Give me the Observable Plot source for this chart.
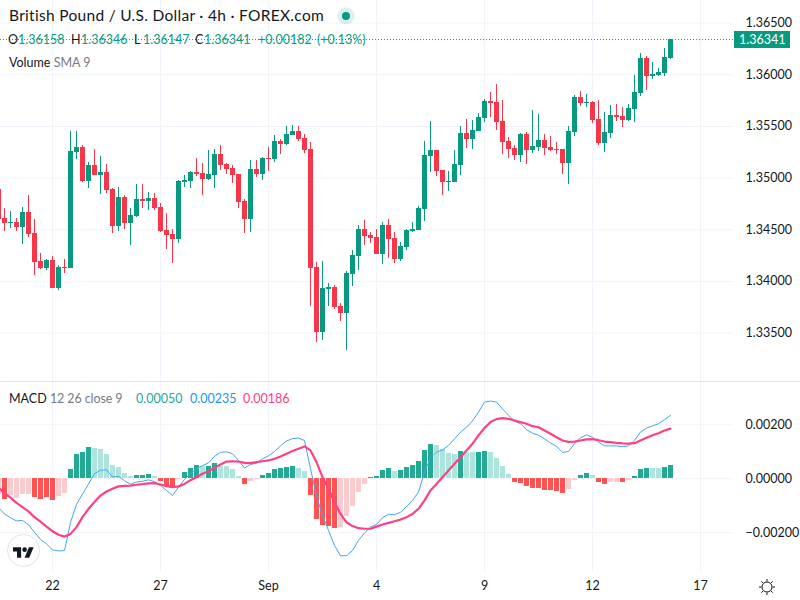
<!DOCTYPE html>
<html>
<head>
<meta charset="utf-8">
<script src="https://cdn.jsdelivr.net/npm/d3@7"></script>
<script src="https://cdn.jsdelivr.net/npm/@observablehq/plot@0.6"></script>
<style>
html,body{margin:0;padding:0;background:#fff;}
body{width:800px;height:600px;overflow:hidden;position:relative;font-family:"Lato","Noto Sans",sans-serif;color:#131722;}
#chart svg{display:block;}
#sep{height:1px;background:#e0e3eb;}
.t{position:absolute;white-space:pre;line-height:1;}
.g{color:#089981;}
.mut{color:#787b86;}
</style>
</head>
<body>
<div id="chart"></div>
<div class="t" style="left:9px;top:8px;font-size:15.5px;letter-spacing:.3px;">British Pound / U.S. Dollar · 4h · FOREX.com</div>
<svg style="position:absolute;left:337px;top:7px" width="18" height="18"><circle cx="9" cy="9" r="8.5" fill="#089981" opacity=".14"/><circle cx="9" cy="9" r="4" fill="#089981"/></svg>
<div class="t" style="left:8px;top:34px;font-size:12.5px;">O</div>
<div class="t g" style="left:18px;top:34px;font-size:12.5px;">1.36158</div>
<div class="t" style="left:71px;top:34px;font-size:12.5px;">H</div>
<div class="t g" style="left:81px;top:34px;font-size:12.5px;">1.36346</div>
<div class="t" style="left:134px;top:34px;font-size:12.5px;">L</div>
<div class="t g" style="left:143px;top:34px;font-size:12.5px;">1.36147</div>
<div class="t" style="left:195px;top:34px;font-size:12.5px;">C</div>
<div class="t g" style="left:204px;top:34px;font-size:12.5px;">1.36341</div>
<div class="t g" style="left:258px;top:34px;font-size:12.5px;">+0.00182</div>
<div class="t g" style="left:317px;top:34px;font-size:12.5px;">(+0.13%)</div>
<div class="t" style="left:9px;top:57px;font-size:12.5px;">Volume <span class="mut">SMA 9</span></div>
<div class="t" style="left:9px;top:393px;font-size:12.5px;">MACD <span class="mut" style="letter-spacing:-.1px">12 26 close 9</span></div>
<div class="t" style="left:136px;top:393px;font-size:12.5px;color:#22ab94;">0.00050</div>
<div class="t" style="left:190px;top:393px;font-size:12.5px;color:#2196f3;">0.00235</div>
<div class="t" style="left:243px;top:393px;font-size:12.5px;color:#ff4081;">0.00186</div>
<svg style="position:absolute;left:7px;top:534px" width="33" height="33" viewBox="0 0 33 33"><circle cx="16.5" cy="16.5" r="16" fill="#fff" stroke="#e0e3eb"/><g transform="translate(6,11) scale(.58)" fill="#131722"><path d="M14 22H7V11H0V4h14v18zM28 22h-8l7.5-18h8L28 22z"/><circle cx="20" cy="8" r="4"/></g></svg>
<svg style="position:absolute;left:759px;top:579px" width="16" height="16" viewBox="0 0 16 16" fill="none" stroke="#131722"><circle cx="8" cy="8" r="5"/><path d="M8 0v2.5M8 13.5V16M0 8h2.5M13.5 8H16M2.3 2.3l1.8 1.8M11.9 11.9l1.8 1.8M2.3 13.7l1.8-1.8M11.9 4.1l1.8-1.8"/></svg>
<script>
// candles, 4h bars, in price points (1e-5); first bar is the one cut by the left edge
const opens=[134894,134606,134558,134568,134519,134665,134461,134190,134123,134200,133929,134132,134123,135245,135294,134965,135119,135023,135052,134887,134529,134810,134558,134626,134790,134771,134800,134713,134490,134452,134403,134955,134965,135052,135042,134984,135023,135226,135129,135090,135032,134771,134597,135081,135032,135187,135177,135352,135323,135410,135448,135381,135274,134132,133503,133919,133939,133755,133687,134065,134239,134500,134442,134423,134258,134539,134413,134210,134326,134481,134490,134694,135206,135265,135071,134955,134955,135119,135429,135371,135448,135574,135739,135729,135545,135352,135284,135216,135419,135265,135294,135361,135294,135274,135274,135139,135439,135777,135720,135729,135565,135332,135429,135603,135594,135555,135661,135816,136155,135981,135990,136010,136158];
const highs=[134900,134703,134674,134606,134713,134829,134597,134268,134210,134239,134152,134210,135448,135448,135313,135148,135274,135206,135129,134897,134906,134829,134703,134935,134935,134858,134848,134752,134655,134500,134974,135023,135061,135187,135139,135265,135274,135313,135139,135119,135032,134790,135168,135168,135197,135294,135410,135371,135497,135506,135497,135419,135342,134181,134190,133977,133958,133784,134094,134297,134539,134587,134471,134500,134568,134597,134471,134374,134500,134568,134723,135352,135545,135265,135071,135061,135265,135497,135565,135555,135623,135758,135826,135903,135748,135390,135313,135429,135439,135652,135613,135419,135400,135342,135274,135497,135797,135835,135806,135739,135748,135632,135700,135710,135681,135710,135990,136203,136174,136116,136058,136252,136346];
const lows=[134597,134481,134510,134481,134355,134423,134055,134113,134103,133929,133910,134074,134123,135177,134955,134897,135023,134839,134848,134461,134481,134500,134345,134616,134703,134684,134684,134471,134306,134171,134365,134906,134897,135013,134829,134974,134897,135071,135032,134945,134703,134461,134471,135003,134974,135061,135148,135226,135313,135410,135352,135235,133755,133406,133426,133755,133726,133610,133329,133948,134103,134345,134365,134258,134161,134219,134171,134190,134297,134471,134490,134577,135052,135013,134829,134868,134955,135023,135284,135274,135448,135536,135584,135458,135226,135187,135168,135148,135129,135235,135255,135216,135255,135226,135032,134935,135400,135690,135681,135526,135313,135245,135381,135545,135487,135545,135536,135787,135845,135952,135981,135981,136147];
const closes=[134603,134558,134568,134519,134665,134452,134181,134123,134200,133929,134132,134123,135255,135294,134965,135119,135023,135052,134877,134529,134810,134558,134635,134790,134771,134800,134703,134481,134442,134403,134965,134974,135052,135032,134984,135032,135226,135119,135081,135023,134761,134597,135081,135032,135187,135177,135352,135323,135419,135448,135371,135265,134123,133503,133929,133939,133745,133687,134074,134248,134500,134432,134413,134258,134539,134403,134210,134335,134490,134500,134703,135216,135265,135061,134955,134965,135129,135429,135371,135458,135584,135739,135720,135536,135342,135274,135216,135419,135265,135303,135361,135284,135265,135265,135139,135448,135777,135720,135729,135555,135332,135439,135603,135584,135555,135671,135826,136155,135981,136000,136019,136165,136341];
// MACD pane, also in points
const macd=[-107,-130,-144,-156,-154,-170,-198,-225,-241,-263,-267,-266,-161,-95,-56,-19,19,32,33,7,9,-7,-20,-12,-9,-4,-10,-25,-43,-62,-31,-2,19,37,49,59,83,98,100,93,68,40,53,58,74,85,101,122,140,149,151,142,37,-62,-136,-191,-247,-285,-285,-266,-228,-201,-179,-169,-144,-131,-133,-124,-103,-80,-49,25,78,99,107,124,148,173,191,214,247,284,288,284,259,235,214,204,182,169,161,148,133,120,98,101,130,152,163,154,136,122,122,122,119,122,142,173,188,196,204,219,235];
const signal=[-33,-53,-70,-89,-105,-121,-142,-159,-177,-194,-207,-214,-204,-179,-142,-111,-86,-62,-47,-37,-28,-26,-25,-22,-20,-17,-16,-21,-27,-31,-28,-19,-5,6,19,28,41,53,64,65,64,59,58,62,65,68,74,83,93,103,111,120,105,62,6,-37,-86,-130,-161,-175,-183,-185,-185,-177,-169,-163,-157,-151,-142,-130,-111,-80,-43,-19,6,31,56,80,105,130,161,188,210,221,225,222,216,210,204,195,191,179,167,154,142,137,138,142,146,147,143,138,136,133,131,130,132,142,152,161,169,179,186];
const hist=[-58,-77,-62,-73,-58,-58,-69,-77,-69,-80,-65,-54,35,90,98,116,112,109,90,49,42,20,9,12,12,16,9,-10,-28,-32,-2,23,38,49,46,46,57,46,46,35,9,-21,-10,-4,12,20,35,38,42,46,38,27,-62,-151,-173,-177,-184,-180,-140,-103,-51,-21,5,9,31,38,27,31,42,49,64,105,127,124,109,94,90,101,98,98,98,101,98,75,46,16,-14,-17,-28,-36,-36,-43,-43,-47,-54,-40,-6,12,20,12,-14,-21,-14,-14,-14,-6,9,35,38,38,38,42,50];
// 1 = strengthening bar, 0 = fading bar
const histStrong=[0,1,0,0,0,0,1,1,1,1,0,0,1,1,1,1,0,0,0,0,0,0,0,1,1,1,0,1,1,1,0,1,1,1,0,1,1,0,0,0,0,1,0,0,1,1,1,1,1,1,0,0,1,1,1,1,1,0,0,0,0,0,1,1,1,1,0,1,1,1,1,1,1,0,0,0,0,1,0,0,1,1,0,0,0,0,1,1,1,1,1,1,1,1,1,0,0,1,1,0,1,1,0,0,1,0,1,1,1,0,0,1,1];
const dateTicks=[8,26,44,62,80,98,116];
const dateLabels=["22","27","Sep","4","9","12","17"];
const priceTicks=[1.335,1.34,1.345,1.35,1.355,1.36,1.365];
const macdTicks=[-0.002,0,0.002];
const lastClose=1.36341;

const firstIndex=-1;
const candles=opens.map((o,k)=>({i:k+firstIndex,o:o/1e5,h:highs[k]/1e5,l:lows[k]/1e5,c:closes[k]/1e5,dir:closes[k]>=o?"up":"down"}));
const bars=hist.map((v,k)=>({i:k+firstIndex,v:v/1e5,tone:(v>=0?"pos":"neg")+(histStrong[k]?"Strong":"Fade")}));
const pts=a=>a.map((v,k)=>({i:k+firstIndex,v:v/1e5}));

const font='"Lato","Noto Sans",sans-serif';
const xScale={domain:[-2/3,121.5],range:[0,733]};
const gridColor="#f0f3fa";
const common={width:800,marginLeft:0,marginRight:67,marginTop:0,style:{background:"transparent",fontFamily:font,fontSize:"12.5px",color:"#131722"}};

const price=Plot.plot({...common,height:381,marginBottom:0,
  x:{...xScale,axis:null},
  y:{domain:[1.33031,1.36719],range:[381,0],axis:null},
  color:{domain:["up","down"],range:["#089981","#f7364a"]},
  marks:[
    Plot.gridX(dateTicks,{stroke:gridColor,strokeOpacity:1}),
    Plot.gridY(priceTicks,{stroke:gridColor,strokeOpacity:1}),
    Plot.axisY({anchor:"right",ticks:priceTicks,tickSize:0,tickPadding:12,tickFormat:d=>d.toFixed(5),textAnchor:"start",label:null}),
    Plot.ruleY([lastClose],{stroke:"#089981",strokeDasharray:"1 2"}),
    Plot.ruleX(candles,{x:"i",y1:"l",y2:"h",stroke:"dir",shapeRendering:"crispEdges"}),
    Plot.rect(candles,{x1:d=>d.i-1/3,x2:d=>d.i+1/2,y1:d=>Math.min(d.o,d.c),y2:d=>Math.max(d.o,d.c),fill:"dir",shapeRendering:"crispEdges"}),
    Plot.ruleY([lastClose],{x1:121.67,x2:131,stroke:"#089981",strokeWidth:17,shapeRendering:"crispEdges"}),
    Plot.text([lastClose],{x:126.3,y:d=>d,text:d=>d.toFixed(5),fill:"white",fontSize:12.5})
  ]
});

const lower=Plot.plot({...common,height:218,marginBottom:28,
  x:{...xScale,axis:null},
  y:{domain:[-0.00347,0.003567],range:[190,0],axis:null},
  color:{domain:["posStrong","posFade","negStrong","negFade"],range:["#22ab94","#ace5dc","#ff5252","#fccbcd"]},
  marks:[
    Plot.gridX(dateTicks,{stroke:gridColor,strokeOpacity:1}),
    Plot.gridY(macdTicks,{stroke:gridColor,strokeOpacity:1}),
    Plot.axisY({anchor:"right",ticks:macdTicks,tickSize:0,tickPadding:12,tickFormat:d=>d3.format(".5f")(d).replace("-","\u2212"),textAnchor:"start",label:null}),
    Plot.axisX({anchor:"bottom",ticks:dateTicks,tickSize:0,tickPadding:9,tickFormat:d=>dateLabels[dateTicks.indexOf(d)],label:null}),
    Plot.rect(bars,{x1:d=>d.i-1/3,x2:d=>d.i+1/2,y1:0,y2:"v",fill:"tone",shapeRendering:"crispEdges"}),
    Plot.line(pts(macd),{x:"i",y:"v",stroke:"#42a5f5",strokeWidth:1}),
    Plot.line(pts(signal),{x:"i",y:"v",stroke:"#ff4081",strokeWidth:2.2})
  ]
});

const host=document.getElementById("chart");
host.append(price);
const sep=document.createElement("div");sep.id="sep";host.append(sep);
host.append(lower);
</script>
</body>
</html>
